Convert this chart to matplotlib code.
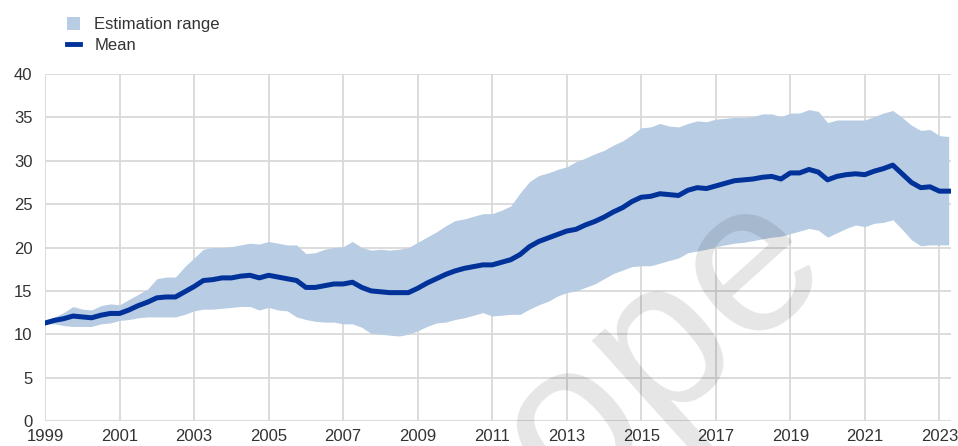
import numpy as np
import matplotlib
matplotlib.use("Agg")
import matplotlib.pyplot as plt
from matplotlib.patches import Patch
from matplotlib.lines import Line2D

# === Data (quarterly, 1999Q1 - 2023Q2) ===
start_year = 1999
mean = [
    11.3, 11.6, 11.8, 12.1, 12.0, 11.9, 12.2, 12.4,   # 1999-2000
    12.4, 12.8, 13.3, 13.7, 14.2, 14.3, 14.3, 14.9,   # 2001-2002
    15.5, 16.2, 16.3, 16.5, 16.5, 16.7, 16.8, 16.5,   # 2003-2004
    16.8, 16.6, 16.4, 16.2, 15.4, 15.4, 15.6, 15.8,   # 2005-2006
    15.8, 16.0, 15.4, 15.0, 14.9, 14.8, 14.8, 14.8,   # 2007-2008
    15.3, 15.9, 16.4, 16.9, 17.3, 17.6, 17.8, 18.0,   # 2009-2010
    18.0, 18.3, 18.6, 19.2, 20.1, 20.7, 21.1, 21.5,   # 2011-2012
    21.9, 22.1, 22.6, 23.0, 23.5, 24.1, 24.6, 25.3,   # 2013-2014
    25.8, 25.9, 26.2, 26.1, 26.0, 26.6, 26.9, 26.8,   # 2015-2016
    27.1, 27.4, 27.7, 27.8, 27.9, 28.1, 28.2, 27.9,   # 2017-2018
    28.6, 28.6, 29.0, 28.7, 27.8, 28.2, 28.4, 28.5,   # 2019-2020
    28.4, 28.8, 29.1, 29.5, 28.5, 27.5, 26.9, 27.0,   # 2021-2022
    26.5, 26.5,                                       # 2023
]
upper = [
    11.5, 12.0, 12.5, 13.2, 12.9, 12.8, 13.3, 13.5,
    13.4, 14.0, 14.6, 15.2, 16.4, 16.6, 16.6, 17.8,
    18.8, 19.8, 20.0, 20.0, 20.1, 20.3, 20.5, 20.4,
    20.7, 20.5, 20.3, 20.3, 19.3, 19.4, 19.8, 20.0,
    20.1, 20.7, 20.0, 19.7, 19.8, 19.7, 19.8, 20.0,
    20.6, 21.2, 21.8, 22.5, 23.1, 23.3, 23.6, 23.9,
    23.9, 24.3, 24.8, 26.3, 27.6, 28.3, 28.6, 29.0,
    29.3, 29.9, 30.3, 30.8, 31.2, 31.8, 32.3, 33.0,
    33.8, 33.9, 34.3, 34.0, 33.9, 34.3, 34.6, 34.5,
    34.8, 34.9, 35.0, 35.0, 35.1, 35.4, 35.4, 35.1,
    35.5, 35.5, 35.9, 35.7, 34.4, 34.7, 34.7, 34.7,
    34.7, 35.1, 35.5, 35.8, 35.0, 34.1, 33.5, 33.6,
    32.9, 32.8,
]
lower = [
    11.2, 11.2, 11.0, 10.9, 10.9, 10.9, 11.2, 11.3,
    11.6, 11.7, 11.9, 12.0, 12.0, 12.0, 12.0, 12.3,
    12.7, 12.9, 12.9, 13.0, 13.1, 13.2, 13.2, 12.8,
    13.1, 12.8, 12.7, 12.0, 11.7, 11.5, 11.4, 11.4,
    11.2, 11.2, 10.8, 10.1, 10.0, 9.9, 9.8, 10.0,
    10.4, 10.9, 11.3, 11.4, 11.7, 11.9, 12.2, 12.5,
    12.1, 12.2, 12.3, 12.3, 12.9, 13.4, 13.8, 14.4,
    14.8, 15.0, 15.4, 15.8, 16.4, 17.0, 17.4, 17.8,
    17.9, 17.9, 18.2, 18.5, 18.8, 19.4, 19.6, 19.8,
    20.1, 20.3, 20.5, 20.6, 20.8, 21.0, 21.2, 21.3,
    21.6, 21.9, 22.2, 22.0, 21.2, 21.7, 22.2, 22.6,
    22.4, 22.8, 22.9, 23.2, 22.1, 20.9, 20.2, 20.3,
    20.3, 20.3,
]
x_ticks = list(range(1999, 2024, 2))
y_ticks = list(range(0, 41, 5))
labels = ["Estimation range", "Mean"]

x = start_year + 0.25 * np.arange(len(mean))

# === Style ===
plt.rcParams["font.family"] = ["Liberation Sans", "DejaVu Sans"]
band_color = "#b8cce4"
line_color = "#003299"
grid_color = "#d9d9d9"
text_color = "#333333"

fig = plt.figure(figsize=(9.58, 4.46), dpi=100)
ax = fig.add_axes([0.047, 0.056, 0.946, 0.778])

ax.fill_between(x, lower, upper, color=band_color, linewidth=0, zorder=2)
ax.plot(x, mean, color=line_color, linewidth=3.6, solid_joinstyle="round", zorder=3)

ax.set_xlim(start_year, 2023.32)
ax.set_ylim(0, 40)
ax.set_xticks(x_ticks)
ax.set_yticks(y_ticks)
ax.grid(True, color=grid_color, linewidth=1.3, zorder=0)
ax.set_axisbelow(True)
for s in ax.spines.values():
    s.set_visible(False)
ax.tick_params(axis="both", length=0, labelsize=12, colors=text_color)
ax.tick_params(axis="y", pad=9)
ax.tick_params(axis="x", pad=6)

# legend
handles = [Patch(facecolor=band_color, edgecolor="none"),
           Line2D([0], [0], color=line_color, linewidth=3.5)]
fig.legend(handles, labels, loc="upper left", bbox_to_anchor=(0.061, 0.98),
           frameon=False, fontsize=12, handlelength=0.8, handleheight=0.8,
           handletextpad=0.85, labelspacing=0.3, borderpad=0, labelcolor=text_color)

# watermark
fig.text(0.7307, 0.130, "ope", fontsize=155, color="black", alpha=0.1,
         rotation=42, rotation_mode="anchor", ha="center", va="baseline", zorder=10)

fig.savefig("out.png", dpi=100)
